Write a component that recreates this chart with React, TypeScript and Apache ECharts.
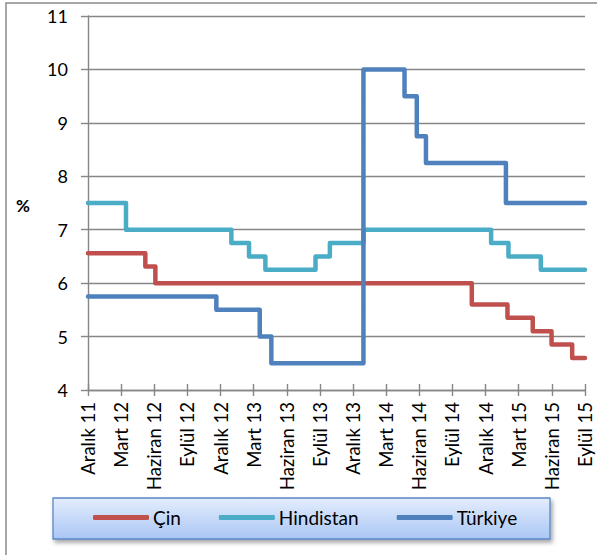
import React, { useEffect, useRef } from "react";
import * as echarts from "echarts";

// x positions are months since "Aralık 11" (0 … 45); each pair is [month where the rate takes effect, rate %]
const tickLabels = [
  "Aralık 11", "Mart 12", "Haziran 12", "Eylül 12", "Aralık 12", "Mart 13", "Haziran 13", "Eylül 13",
  "Aralık 13", "Mart 14", "Haziran 14", "Eylül 14", "Aralık 14", "Mart 15", "Haziran 15", "Eylül 15",
];
const seriesNames = ["Çin", "Hindistan", "Türkiye"];
const lastMonth = 45;
const cinSteps: [number, number][] = [
  [0, 6.56], [5.19, 6.31], [6.1, 6.0], [34.75, 5.6], [37.98, 5.35], [40.27, 5.1], [41.97, 4.85], [43.84, 4.6],
];
const hindistanSteps: [number, number][] = [
  [0, 7.5], [3.44, 7.0], [12.98, 6.75], [14.58, 6.5], [16.06, 6.25], [20.6, 6.5], [21.9, 6.75], [24.94, 7.0],
  [36.5, 6.75], [38.07, 6.5], [41.0, 6.25],
];
const turkiyeSteps: [number, number][] = [
  [0, 5.75], [11.62, 5.5], [15.55, 5.0], [16.6, 4.5], [24.94, 10.0], [28.66, 9.5], [29.77, 8.75], [30.6, 8.25],
  [37.84, 7.5],
];
const colors = ["#C0504D", "#4BACC6", "#4F81BD"];

const FONT = "Lato, 'Noto Sans', sans-serif";

function withEnd(steps: [number, number][]): [number, number][] {
  return [...steps, [lastMonth, steps[steps.length - 1][1]]];
}

export default function App() {
  const ref = useRef<HTMLDivElement>(null);
  useEffect(() => {
    if (!ref.current) return;
    const chart = echarts.init(ref.current, undefined, { renderer: "svg" });
    const allSteps = [cinSteps, hindistanSteps, turkiyeSteps];
    chart.setOption({
      animation: false,
      backgroundColor: "#ffffff",
      grid: { left: 88, top: 16, width: 497, height: 374, containLabel: false },
      xAxis: [
        {
          type: "value",
          min: 0,
          max: lastMonth,
          interval: 3,
          axisLine: { show: true, lineStyle: { color: "#868686", width: 1.4 } },
          axisTick: { show: true, inside: true, length: 6, lineStyle: { color: "#868686", width: 1.4 } },
          splitLine: { show: false },
          axisLabel: {
            rotate: 90,
            margin: 12,
            fontFamily: FONT,
            fontSize: 18.5,
            color: "#000",
            formatter: (v: number) => tickLabels[Math.round(v / 3)] ?? "",
          },
        },
        {
          type: "value",
          min: 0,
          max: lastMonth,
          interval: 3,
          position: "bottom",
          axisLine: { show: false },
          axisTick: { show: true, inside: false, length: 6, lineStyle: { color: "#868686", width: 1.4 } },
          splitLine: { show: false },
          axisLabel: { show: false },
        },
      ],
      yAxis: {
        type: "value",
        min: 4,
        max: 11,
        interval: 1,
        axisLine: { show: true, lineStyle: { color: "#868686", width: 1.4 } },
        axisTick: { show: true, length: 7, lineStyle: { color: "#868686", width: 1.4 } },
        splitLine: { show: true, lineStyle: { color: "#868686", width: 1.4 } },
        axisLabel: { margin: 20, fontFamily: FONT, fontSize: 18, color: "#000" },
      },
      legend: {
        left: 93,
        top: 508,
        padding: 0,
        itemGap: 38,
        itemWidth: 56,
        itemHeight: 5,
        icon: "roundRect",
        textStyle: { fontFamily: FONT, fontSize: 19, color: "#000", padding: [0, 0, 0, -1] },
        data: seriesNames,
      },
      graphic: [
        {
          type: "rect",
          z: -10,
          silent: true,
          shape: { x: 6, y: 3, width: 620, height: 620 },
          style: { fill: "none", stroke: "#8a8a8a", lineWidth: 1.5 },
        },
        {
          type: "rect",
          z: 0,
          silent: true,
          shape: { x: 53, y: 498, width: 497, height: 41 },
          style: {
            fill: new echarts.graphic.LinearGradient(0, 0, 0, 1, [
              { offset: 0, color: "#e4edfd" },
              { offset: 1, color: "#a9c6f4" },
            ]),
            stroke: "#5b87c6",
            lineWidth: 1.3,
            shadowBlur: 4,
            shadowOffsetX: 2,
            shadowOffsetY: 3,
            shadowColor: "rgba(0,0,0,0.35)",
          },
        },
        {
          type: "text",
          x: 16,
          y: 205,
          style: {
            text: "%",
            fontFamily: FONT,
            fontSize: 17,
            fontWeight: "bold",
            fill: "#000",
            verticalAlign: "middle",
          },
        },
      ],
      series: seriesNames.map((name, i) => ({
        name,
        type: "line",
        step: "end",
        xAxisIndex: 0,
        showSymbol: false,
        symbol: "none",
        color: colors[i],
        lineStyle: { color: colors[i], width: 4.5, cap: "round", join: "round" },
        data: withEnd(allSteps[i]),
      })),
    });
    return () => chart.dispose();
  }, []);
  return (
    <div
      ref={ref}
      style={{ position: "absolute", left: 0, top: 0, width: 597, height: 555 }}
    />
  );
}
